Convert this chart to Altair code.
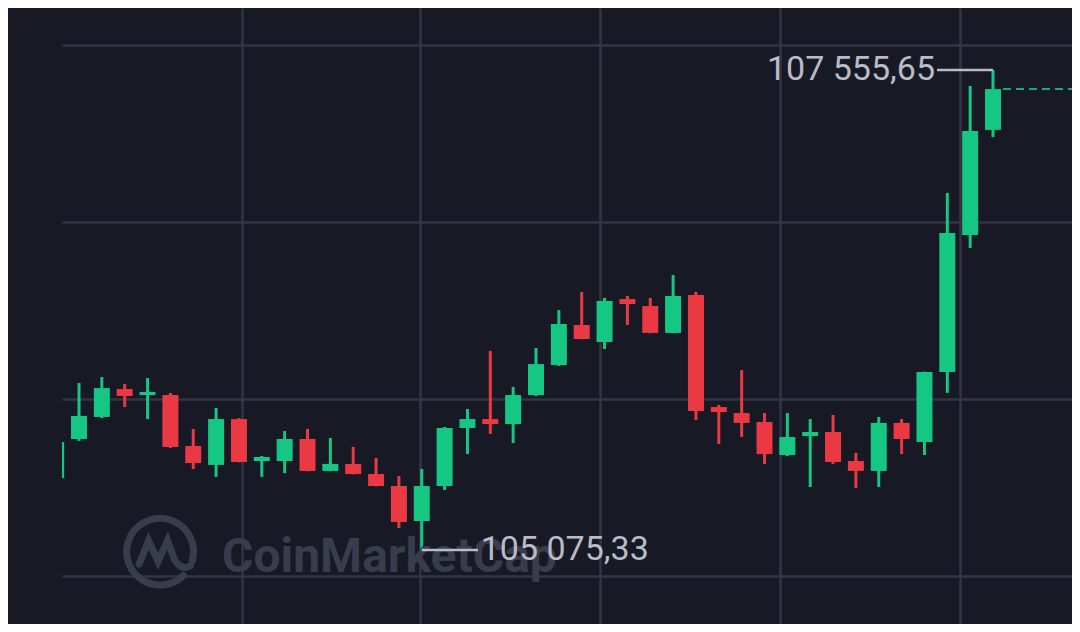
import altair as alt
import pandas as pd

# ---- data ----
idx = list(range(-1, 41))
opens = [105447, 105649, 105763, 105907, 105876, 105876, 105613, 105515, 105752, 105535,
         105535, 105649, 105484, 105520, 105468, 105406, 105225, 105406, 105706, 105752,
         105726, 105876, 106031, 106238, 106150, 106372, 106336, 106197, 106393, 105814,
         105783, 105737, 105566, 105664, 105685, 105535, 105484, 105732, 105633, 105995,
         106703, 107246]
highs = [105644, 105938, 105969, 105933, 105964, 105887, 105701, 105809, 105757, 105561,
         105690, 105701, 105654, 105608, 105551, 105458, 105494, 105711, 105804, 106104,
         105918, 106119, 106315, 106409, 106378, 106388, 106378, 106496, 106409, 105825,
         106005, 105783, 105783, 105752, 105773, 105577, 105763, 105752, 105997, 106920,
         107473, 107555.65]
lows = [105442, 105639, 105757, 105814, 105752, 105602, 105494, 105453, 105528, 105453,
        105473, 105482, 105482, 105466, 105404, 105189, 105075.33, 105385, 105571, 105675,
        105628, 105871, 106026, 106164, 106114, 106238, 106195, 106195, 105747, 105623,
        105659, 105520, 105561, 105401, 105520, 105396, 105401, 105571, 105566, 105887,
        106636, 107209]
closes = [105633, 105768, 105912, 105871, 105892, 105608, 105525, 105752, 105530, 105556,
          105649, 105484, 105520, 105468, 105406, 105220, 105406, 105706, 105752, 105726,
          105876, 106036, 106243, 106166, 106362, 106346, 106197, 106388, 105794, 105788,
          105732, 105571, 105659, 105685, 105530, 105484, 105732, 105649, 105995, 106713,
          107240, 107457]

max_idx, max_price, max_label = 40, 107555.65, "107 555,65"
min_idx, min_price, min_label = 15, 105075.33, "105 075,33"
last_idx, last_close = 40, 107457

x_domain = [-0.744, 43.457]
y_domain = [104692.95, 107876.0]
x_grid = [7.13, 14.92, 22.80, 30.68, 38.56]
y_grid = [104941, 105856, 106770, 107685]

BG = "#171924"
GRID = "#323546"
GREEN = "#16c784"
RED = "#ea3943"
LABEL = "#b9bcc6"
WM = "#393c4d"

df = pd.DataFrame({"i": idx, "open": opens, "high": highs, "low": lows, "close": closes})
df["dir"] = ["up" if c >= o else "down" for o, c in zip(opens, closes)]

xs = alt.Scale(domain=x_domain, nice=False, zero=False, padding=0)
ys = alt.Scale(domain=y_domain, nice=False, zero=False, padding=0)
x_axis = alt.Axis(values=x_grid, labels=False, ticks=False, domain=False, grid=True,
                  gridColor=GRID, gridWidth=2.5, title="")
y_axis = alt.Axis(values=y_grid, labels=False, ticks=False, domain=False, grid=True,
                  gridColor=GRID, gridWidth=2.5, title="")
color = alt.Color("dir:N", scale=alt.Scale(domain=["up", "down"], range=[GREEN, RED]), legend=None)

base = alt.Chart(df)

wicks = base.mark_rule(strokeWidth=3, clip=True).encode(
    x=alt.X("i:Q", scale=xs, axis=x_axis),
    y=alt.Y("low:Q", scale=ys, axis=y_axis),
    y2="high:Q",
    color=color,
)
bodies = base.mark_bar(size=16, clip=True).encode(
    x="i:Q", y="open:Q", y2="close:Q", color=color
)

# watermark
LOGO = ("M 0.62 0.62 A 0.88 0.88 0 1 1 0.85 0.23 "
        "M -0.55 0.32 L -0.3 -0.3 L -0.05 0.25 L 0.2 -0.3 L 0.38 0.2 Q 0.55 0.5 0.8 0.36")
wm_df = pd.DataFrame({"t": ["CoinMarketCap"]})
wm_text = alt.Chart(wm_df).mark_text(
    font="Roboto", fontWeight="bold", fontSize=48, color=WM, align="left", baseline="alphabetic"
).encode(x=alt.value(160), y=alt.value(564), text="t:N")
wm_logo = alt.Chart(wm_df).mark_point(
    shape=LOGO, filled=False, size=5776, strokeWidth=7, color=WM, opacity=1, strokeCap="round"
).encode(x=alt.value(98), y=alt.value(544))

# annotations
max_df = pd.DataFrame({"i": [max_idx], "p": [max_price], "t": [max_label]})
min_df = pd.DataFrame({"i": [min_idx], "p": [min_price], "t": [min_label]})
last_df = pd.DataFrame({"i": [last_idx], "p": [last_close]})

max_lead = alt.Chart(max_df).mark_rule(color=LABEL, strokeWidth=2.5).encode(
    x="i:Q", x2=alt.value(875), y="p:Q"
)
max_text = alt.Chart(max_df).mark_text(
    font="Roboto", fontSize=34, color=LABEL, align="right", baseline="middle", dx=-58
).encode(x="i:Q", y="p:Q", text="t:N")
min_lead = alt.Chart(min_df).mark_rule(color=LABEL, strokeWidth=2.5).encode(
    x="i:Q", x2=alt.value(416), y="p:Q"
)
min_text = alt.Chart(min_df).mark_text(
    font="Roboto", fontSize=34, color=LABEL, align="left", baseline="middle", dx=59
).encode(x="i:Q", y="p:Q", text="t:N")
last_line = alt.Chart(last_df).mark_rule(
    color=GREEN, strokeWidth=2, strokeDash=[8, 5], opacity=0.85
).encode(x=alt.value(941), x2=alt.value(1010), y="p:Q")

chart = alt.layer(
    wicks, wm_text, wm_logo, bodies, last_line, max_lead, min_lead, max_text, min_text
).properties(
    width=1010, height=616,
    padding={"left": 54, "top": 0, "right": 0, "bottom": 0},
    autosize=alt.AutoSizeParams(type="none"),
).configure(background=BG).configure_view(strokeWidth=0)

chart.save("out.html", embed_options={"renderer": "svg", "actions": False})
